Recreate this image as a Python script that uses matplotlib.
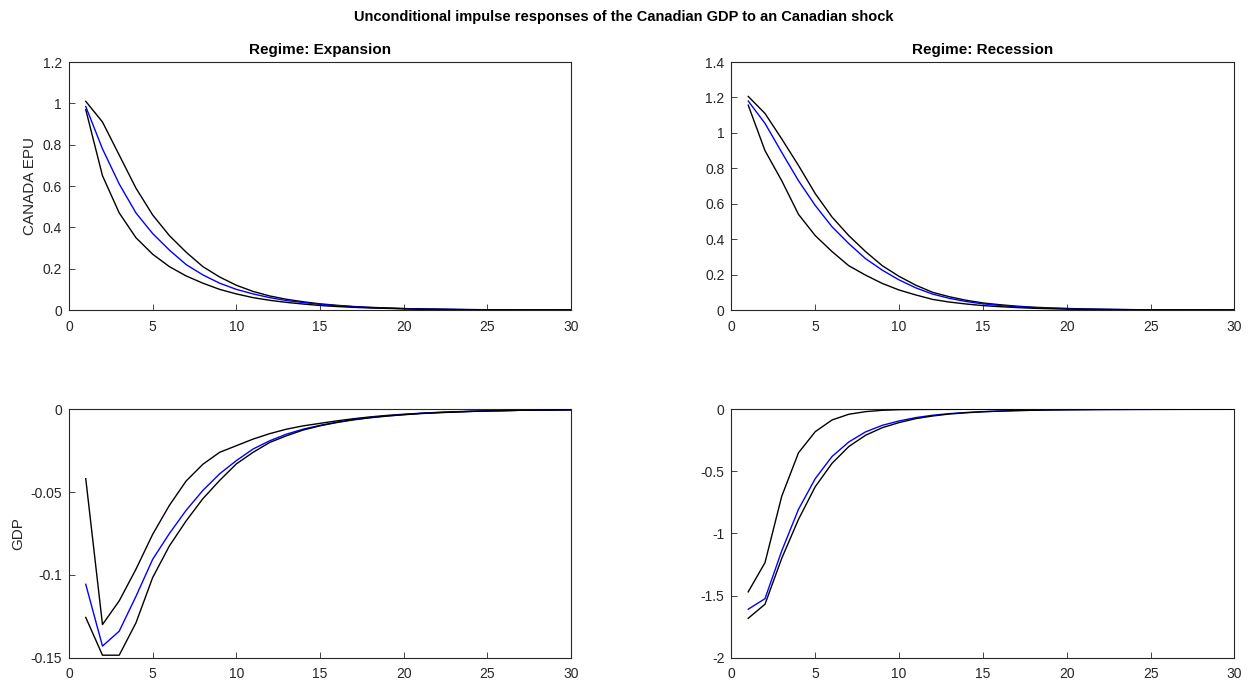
import matplotlib
matplotlib.use('Agg')
import matplotlib.pyplot as plt
import matplotlib.ticker as ticker

plt.rcParams['font.family'] = ['Liberation Sans', 'DejaVu Sans']

horizon = list(range(1, 31))

# Regime: Expansion, CANADA EPU
epu_exp_med = [0.985, 0.78, 0.61, 0.47, 0.37, 0.29, 0.22, 0.17, 0.13, 0.10,
               0.078, 0.06, 0.046, 0.036, 0.028, 0.021, 0.016, 0.012, 0.009, 0.007,
               0.005, 0.004, 0.003, 0.002, 0.0015, 0.001, 0.0008, 0.0006, 0.0005, 0.0004]
epu_exp_hi = [1.01, 0.91, 0.75, 0.59, 0.46, 0.36, 0.28, 0.21, 0.16, 0.12,
              0.09, 0.068, 0.052, 0.04, 0.03, 0.023, 0.017, 0.013, 0.01, 0.007,
              0.005, 0.004, 0.003, 0.002, 0.0015, 0.001, 0.0008, 0.0006, 0.0005, 0.0004]
epu_exp_lo = [0.97, 0.65, 0.47, 0.35, 0.27, 0.21, 0.165, 0.13, 0.10, 0.078,
              0.06, 0.047, 0.037, 0.029, 0.022, 0.017, 0.013, 0.01, 0.008, 0.006,
              0.004, 0.003, 0.002, 0.0015, 0.001, 0.0008, 0.0006, 0.0005, 0.0004, 0.0003]

# Regime: Recession, CANADA EPU
epu_rec_med = [1.18, 1.054, 0.89, 0.73, 0.59, 0.47, 0.375, 0.29, 0.225, 0.17,
               0.125, 0.09, 0.066, 0.048, 0.035, 0.026, 0.019, 0.014, 0.01, 0.007,
               0.005, 0.004, 0.003, 0.002, 0.0015, 0.001, 0.0008, 0.0006, 0.0005, 0.0004]
epu_rec_hi = [1.206, 1.11, 0.966, 0.816, 0.657, 0.525, 0.42, 0.33, 0.25, 0.19,
              0.14, 0.10, 0.075, 0.055, 0.04, 0.03, 0.022, 0.016, 0.012, 0.009,
              0.006, 0.004, 0.003, 0.002, 0.0015, 0.001, 0.0008, 0.0006, 0.0005, 0.0004]
epu_rec_lo = [1.157, 0.90, 0.73, 0.54, 0.42, 0.33, 0.25, 0.197, 0.15, 0.113,
              0.085, 0.06, 0.045, 0.034, 0.025, 0.019, 0.014, 0.01, 0.0075, 0.0055,
              0.004, 0.003, 0.002, 0.0015, 0.001, 0.0008, 0.0006, 0.0005, 0.0004, 0.0003]

# Regime: Expansion, GDP
gdp_exp_med = [-0.1057, -0.143, -0.134, -0.113, -0.0906, -0.075, -0.061, -0.049, -0.039, -0.031,
               -0.024, -0.019, -0.015, -0.012, -0.0097, -0.0078, -0.0062, -0.005, -0.004, -0.0032,
               -0.0025, -0.002, -0.0016, -0.0013, -0.001, -0.0008, -0.0006, -0.0005, -0.0004, -0.0003]
gdp_exp_hi = [-0.0419, -0.130, -0.1157, -0.0966, -0.0755, -0.058, -0.0433, -0.0332, -0.026, -0.022,
              -0.018, -0.0147, -0.012, -0.010, -0.0085, -0.007, -0.0057, -0.0046, -0.0037, -0.003,
              -0.0024, -0.0019, -0.0015, -0.0012, -0.001, -0.0008, -0.0006, -0.0005, -0.0004, -0.0003]
gdp_exp_lo = [-0.1257, -0.1485, -0.1485, -0.129, -0.1016, -0.0825, -0.0674, -0.054, -0.043, -0.033,
              -0.026, -0.020, -0.016, -0.0125, -0.010, -0.008, -0.0064, -0.0051, -0.0041, -0.0033,
              -0.0026, -0.0021, -0.0017, -0.0013, -0.001, -0.0008, -0.0006, -0.0005, -0.0004, -0.0003]

# Regime: Recession, GDP
gdp_rec_med = [-1.61, -1.525, -1.14, -0.805, -0.558, -0.38, -0.263, -0.182, -0.129, -0.094,
               -0.067, -0.048, -0.035, -0.026, -0.019, -0.014, -0.01, -0.007, -0.005, -0.0035,
               -0.0025, -0.0018, -0.0013, -0.001, -0.0007, -0.0005, -0.0004, -0.0003, -0.0002, -0.0001]
gdp_rec_hi = [-1.47, -1.235, -0.70, -0.35, -0.18, -0.086, -0.04, -0.019, -0.008, -0.003,
              -0.0015, -0.0007, -0.0003, -0.0002, -0.0001, 0, 0, 0, 0, 0,
              0, 0, 0, 0, 0, 0, 0, 0, 0, 0]
gdp_rec_lo = [-1.683, -1.57, -1.20, -0.886, -0.623, -0.435, -0.30, -0.209, -0.148, -0.107,
              -0.075, -0.054, -0.038, -0.028, -0.02, -0.015, -0.011, -0.008, -0.0055, -0.004,
              -0.003, -0.002, -0.0015, -0.001, -0.0007, -0.0005, -0.0004, -0.0003, -0.0002, -0.0001]

axcol = (0.15, 0.15, 0.15)

fig = plt.figure(figsize=(12.48, 6.85), dpi=100)
ax1 = fig.add_axes([0.0553, 0.5474, 0.4022, 0.362])
ax2 = fig.add_axes([0.5861, 0.5474, 0.4030, 0.362])
ax3 = fig.add_axes([0.0553, 0.0399, 0.4022, 0.3626])
ax4 = fig.add_axes([0.5861, 0.0399, 0.4030, 0.3626])

panels = [
    (ax1, epu_exp_hi, epu_exp_med, epu_exp_lo, (0, 1.2), 'Regime: Expansion', 'CANADA EPU'),
    (ax2, epu_rec_hi, epu_rec_med, epu_rec_lo, (0, 1.4), 'Regime: Recession', None),
    (ax3, gdp_exp_hi, gdp_exp_med, gdp_exp_lo, (-0.15, 0), None, 'GDP'),
    (ax4, gdp_rec_hi, gdp_rec_med, gdp_rec_lo, (-2, 0), None, None),
]

for ax, hi, med, lo, ylim, title, ylabel in panels:
    ax.plot(horizon, hi, color='k', lw=1, zorder=3)
    ax.plot(horizon, med, color='#0000ff', lw=1, zorder=3)
    ax.plot(horizon, lo, color='k', lw=1, zorder=3)
    ax.set_xlim(0, 30)
    ax.set_ylim(*ylim)
    ax.xaxis.set_major_locator(ticker.MultipleLocator(5))
    ax.yaxis.set_major_formatter(ticker.FormatStrFormatter('%g'))
    ax.xaxis.set_major_formatter(ticker.FormatStrFormatter('%g'))
    ax.tick_params(direction='in', length=4, width=0.6, colors=axcol,
                   labelsize=10, pad=5)
    ax.tick_params(axis='x', pad=7)
    for s in ax.spines.values():
        s.set_color(axcol)
        s.set_linewidth(0.8)
    if title:
        ax.set_title(title, fontsize=11, fontweight='bold', pad=6)
    if ylabel:
        ax.set_ylabel(ylabel, fontsize=11, color=axcol)

ax1.set_yticks([0, 0.2, 0.4, 0.6, 0.8, 1.0, 1.2])
ax2.set_yticks([0, 0.2, 0.4, 0.6, 0.8, 1.0, 1.2, 1.4])
ax3.set_yticks([-0.15, -0.1, -0.05, 0])
ax4.set_yticks([-2, -1.5, -1, -0.5, 0])

fig.suptitle('Unconditional impulse responses of the Canadian GDP to an Canadian shock',
             fontsize=10.5, fontweight='bold', y=0.985)

fig.savefig('out.png', dpi=100)
